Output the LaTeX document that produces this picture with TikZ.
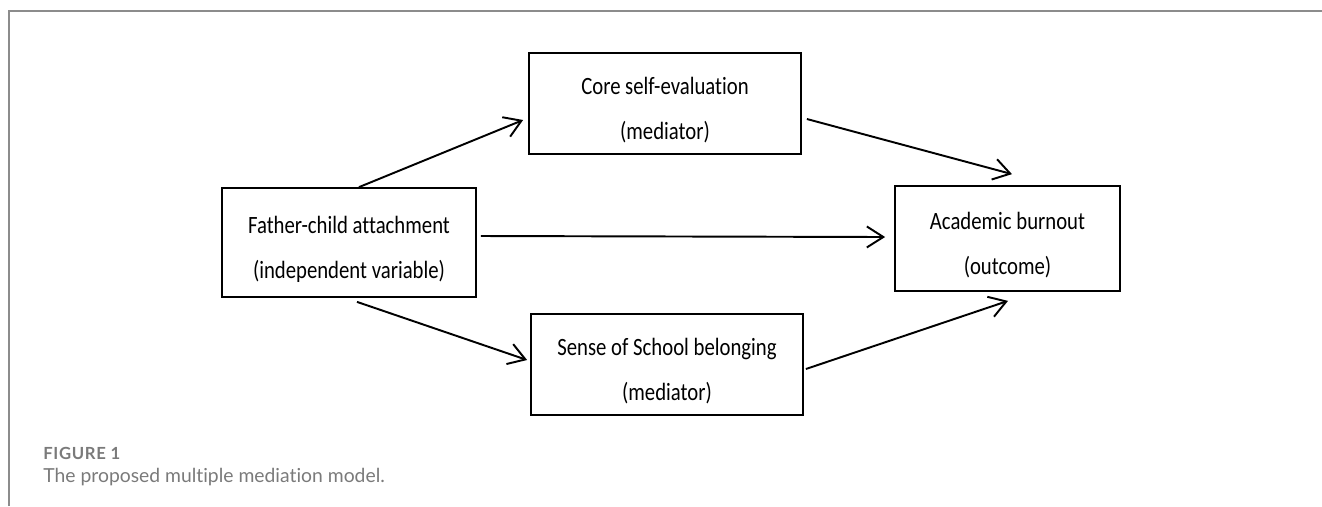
\documentclass[tikz,border=0pt]{standalone}
\usepackage{fontspec}
\setmainfont{Carlito}[Ligatures=NoCommon]
\newfontfamily\captionfont{Lato}[Ligatures=NoCommon]
\newfontfamily\figlabelfont{Lato}[LetterSpace=4]
\usetikzlibrary{arrows.meta}

\definecolor{framegray}{HTML}{8C8C8C}
\definecolor{captiongray}{HTML}{7A7A7A}

% box text is drawn a little taller than wide
\newcommand{\tallline}[1]{\scalebox{1}[1.2]{#1}}

\tikzset{
    varbox/.style={draw=black,line width=1pt,align=center,text height=44pt,text depth=3pt,
        font=\fontsize{11.8}{25.5}\selectfont},
    path arrow/.style={line width=1.1pt,-{Straight Barb[length=3.3mm,width=4.2mm]}}
}

\begin{document}
\begin{tikzpicture}
    \useasboundingbox (0,0) rectangle (26.44,-10.12);
    \draw[framegray,line width=1.1pt] (0.18,-10.12) -- (0.18,-0.22) -- (26.44,-0.22);

    \node[varbox,minimum width=5.08cm,minimum height=2.18cm] (father) at (6.98,-4.85) {\tallline{Father-child attachment}\\\tallline{(independent variable)}};
    \node[varbox,minimum width=5.44cm,minimum height=2.02cm] (core) at (13.30,-2.07) {\tallline{Core self-evaluation}\\\tallline{(mediator)}};
    \node[varbox,minimum width=5.44cm,minimum height=2.02cm] (sense) at (13.34,-7.29) {\tallline{Sense of School belonging}\\\tallline{(mediator)}};
    \node[varbox,minimum width=4.50cm,minimum height=2.10cm] (burnout) at (20.15,-4.77) {\tallline{Academic burnout}\\\tallline{(outcome)}};

    \draw[path arrow] ([xshift=0.2cm]father.north) -- ([shift={(-0.1,-0.33)}]core.west);
    \draw[path arrow] ([shift={(0.1,-0.31)}]core.east) -- ([shift={(0.09,0.22)}]burnout.north);
    \draw[path arrow] ([shift={(0.08,0.13)}]father.east) -- ([shift={(-0.18,0.03)}]burnout.west);
    \draw[path arrow] ([shift={(0.16,-0.08)}]father.south) -- ([shift={(-0.06,0.09)}]sense.west);
    \draw[path arrow] ([shift={(0.04,-0.09)}]sense.east) -- ([shift={(0.01,-0.18)}]burnout.south);

    \node[anchor=west,inner sep=0pt,text=captiongray,font=\figlabelfont\bfseries\fontsize{9.5}{11}\selectfont] (figlabel) at (0.86,-9.06) {FIGURE 1};
    \node[anchor=west,inner sep=0pt,text=captiongray,font=\captionfont\fontsize{11}{13}\selectfont] (figcaption) at (0.86,-9.54) {The proposed multiple mediation model.};
\end{tikzpicture}
\end{document}
